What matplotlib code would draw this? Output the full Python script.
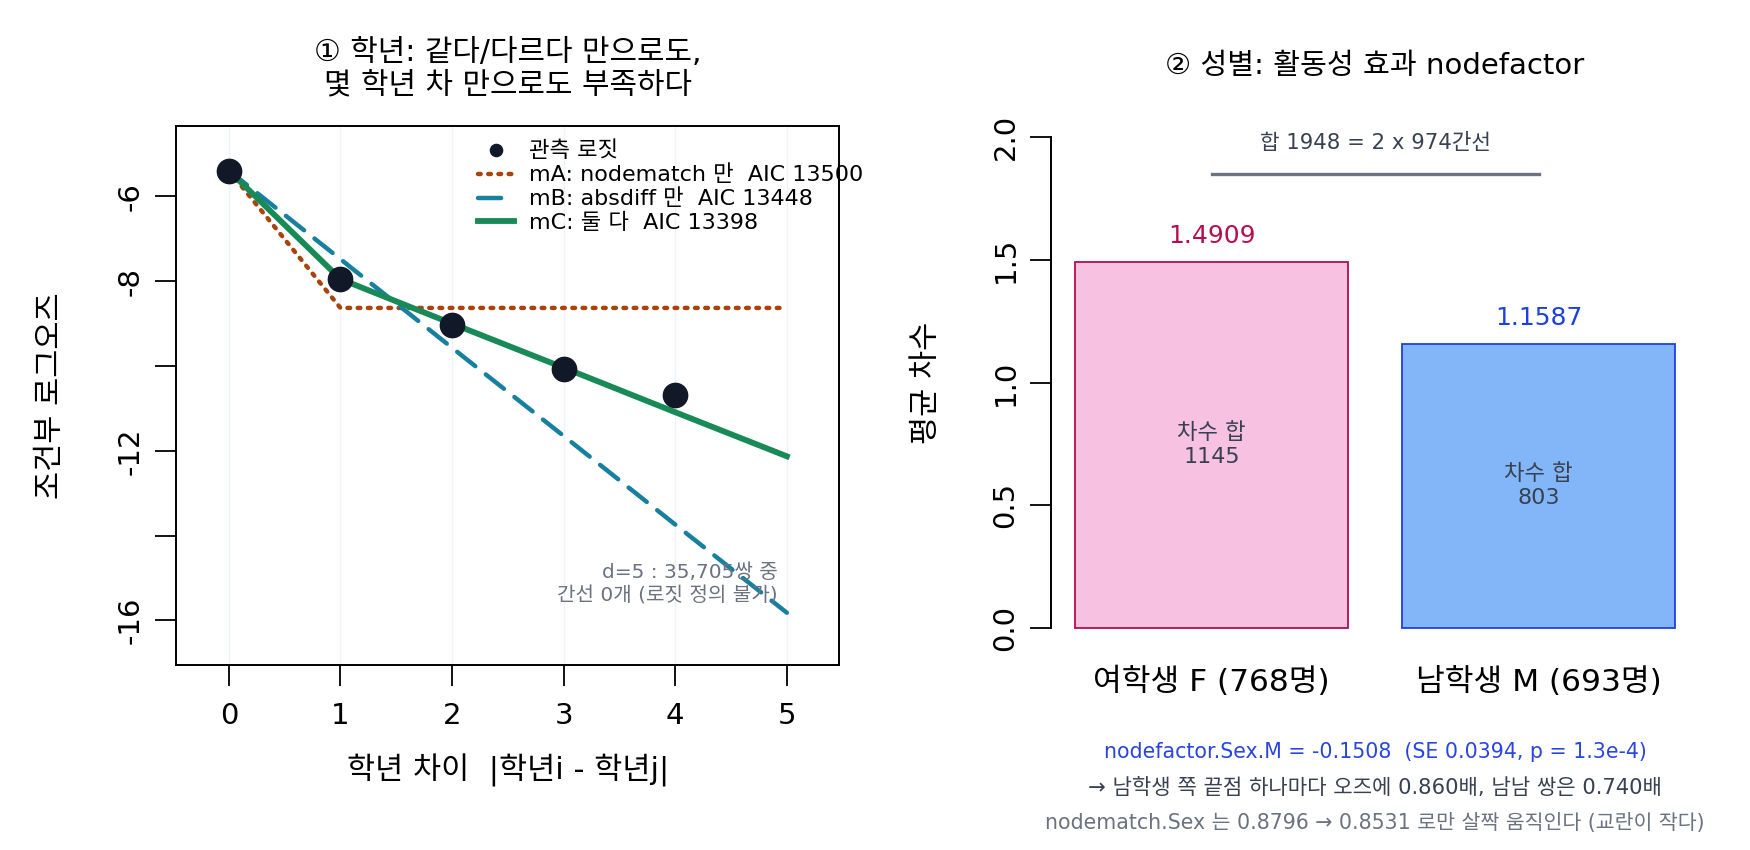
import numpy as np
import matplotlib
matplotlib.use('Agg')
import matplotlib.pyplot as plt

plt.rcParams['font.family'] = ['DejaVu Sans', 'Noto Sans CJK KR']

# 패널 1 데이터: 학년 차이별 조건부 로그오즈
grade_diff = [0, 1, 2, 3, 4, 5]
obs_d = [0, 1, 2, 3, 4]
obs_logit = [-5.39, -7.95, -9.03, -10.08, -10.68]
fit_mA = [-5.39, -8.63, -8.63, -8.63, -8.63, -8.63]
fit_mB = [-5.39, -7.48, -9.57, -11.65, -13.74, -15.82]
fit_mC = [-5.39, -7.95, -9.00, -10.04, -11.09, -12.13]
legend_labels = ['관측 로짓', 'mA: nodematch 만  AIC 13500',
                 'mB: absdiff 만  AIC 13448', 'mC: 둘 다  AIC 13398']

# 패널 2 데이터: 성별 평균 차수
sex_labels = ['여학생 F (768명)', '남학생 M (693명)']
mean_degree = [1.4909, 1.1587]
degree_sum = [1145, 803]

C_OBS = '#111827'
C_A = '#A8430C'
C_B = '#17809F'
C_C = '#178A57'

fig = plt.figure(figsize=(17.5, 8.5), dpi=100)

# ---- 왼쪽 패널
ax1 = fig.add_axes([0.1008, 0.2178, 0.3788, 0.6339])
for d in grade_diff:
  ax1.axvline(d, color='#EEF2F8', lw=1, zorder=0)
ax1.plot(grade_diff, fit_mA, color=C_A, lw=3.2, ls=(0, (0.6, 1.7)), dash_capstyle='round',
         label=legend_labels[1])
ax1.plot(grade_diff, fit_mB, color=C_B, lw=3.2, ls=(0, (5.2, 3.0)), dash_capstyle='round',
         label=legend_labels[2])
ax1.plot(grade_diff, fit_mC, color=C_C, lw=4.2, label=legend_labels[3])
ax1.plot(obs_d, obs_logit, 'o', color=C_OBS, ms=17.5, ls='none', zorder=5,
         label=legend_labels[0])
ax1.set_xlim(-0.47, 5.47)
ax1.set_ylim(-17.05, -4.34)
ax1.set_xticks(grade_diff)
ax1.set_yticks([-6, -8, -10, -12, -14, -16])
ax1.set_yticklabels(['-6', '-8', '', '-12', '', '-16'])
ax1.tick_params(direction='out', length=15, width=1.3, labelsize=21)
ax1.tick_params(axis='x', pad=12)
ax1.tick_params(axis='y', labelrotation=90, pad=8)
for lab in ax1.get_yticklabels():
  lab.set_va('center')
for sp in ax1.spines.values():
  sp.set_linewidth(1.4)

h, l = ax1.get_legend_handles_labels()
order = [3, 0, 1, 2]
leg = ax1.legend([h[i] for i in order], [l[i] for i in order], loc='upper left',
                 bbox_to_anchor=(0.425, 1.01), frameon=False, fontsize=16,
                 handlelength=1.6, labelspacing=0.15, markerscale=0.5, handletextpad=0.7)
ax1.text(4.92, -15.15, 'd=5 : 35,705쌍 중\n간선 0개 (로짓 정의 불가)', ha='right', va='center',
         fontsize=14.5, color='#6B7280', linespacing=1.25)
fig.text(0.2902, 0.919, '① 학년: 같다/다르다 만으로도,\n몇 학년 차 만으로도 부족하다',
         ha='center', va='center', fontsize=21.5, linespacing=1.15, multialignment='center')
ax1.set_xlabel('학년 차이  |학년i - 학년j|', fontsize=22, va='center')
ax1.xaxis.set_label_coords(0.5, -0.195)
ax1.set_ylabel('조건부 로그오즈', fontsize=22, va='center')
ax1.yaxis.set_label_coords(-0.19, 0.5)

# ---- 오른쪽 패널
ax2 = fig.add_axes([0.6008, 0.2381, 0.3699, 0.6236])
xpos = [0.7, 1.9]
fills = ['#F7C1E1', '#83B6F8']
edges = ['#B80C50', '#1E40E0']
ax2.bar(xpos, mean_degree, width=1.0, color=fills, edgecolor=edges, linewidth=1.3)
for x, v, s, ec in zip(xpos, mean_degree, degree_sum, edges):
  ax2.text(x, v + 0.105, f'{v:.4f}', ha='center', va='center', fontsize=18, color=ec)
  ax2.text(x, v / 2, f'차수 합\n{s}', ha='center', va='center', fontsize=16,
           color='#374151', linespacing=1.25)
ax2.plot([xpos[0], xpos[1]], [1.85, 1.85], color='#6B7280', lw=2.4)
ax2.text(1.3, 1.975, f'합 {sum(degree_sum)} = 2 x {sum(degree_sum) // 2}간선', ha='center',
         va='center', fontsize=15.3, color='#374151')
ax2.set_xlim(0.112, 2.488)
ax2.set_ylim(-0.08, 2.08)
ax2.set_xticks(xpos)
ax2.set_xticklabels(sex_labels, fontsize=22.5)
ax2.tick_params(axis='x', length=0, pad=14)
ax2.set_yticks([0.0, 0.5, 1.0, 1.5, 2.0])
ax2.set_yticklabels(['0.0', '0.5', '1.0', '1.5', '2.0'])
ax2.tick_params(axis='y', direction='out', length=15, width=1.3, labelsize=21, pad=8,
                labelrotation=90)
for lab in ax2.get_yticklabels():
  lab.set_va('center')
for k in ['top', 'right', 'bottom']:
  ax2.spines[k].set_visible(False)
ax2.spines['left'].set_bounds(0, 2)
ax2.spines['left'].set_linewidth(1.4)
fig.text(0.7857, 0.922, '② 성별: 활동성 효과 nodefactor', ha='center', va='center',
         fontsize=21)
ax2.set_ylabel('평균 차수', fontsize=22, va='center')
ax2.yaxis.set_label_coords(-0.193, 0.5)

fig.text(0.7857, 0.1155, 'nodefactor.Sex.M = -0.1508  (SE 0.0394, p = 1.3e-4)',
         ha='center', va='center', fontsize=14.8, color='#2845E0')
fig.text(0.7857, 0.0735, '→ 남학생 쪽 끝점 하나마다 오즈에 0.860배, 남남 쌍은 0.740배',
         ha='center', va='center', fontsize=15.2, color='#374151')
fig.text(0.7857, 0.0315, 'nodematch.Sex 는 0.8796 → 0.8531 로만 살짝 움직인다 (교란이 작다)',
         ha='center', va='center', fontsize=14.8, color='#6B7280')

fig.savefig('out.png', dpi=100)
